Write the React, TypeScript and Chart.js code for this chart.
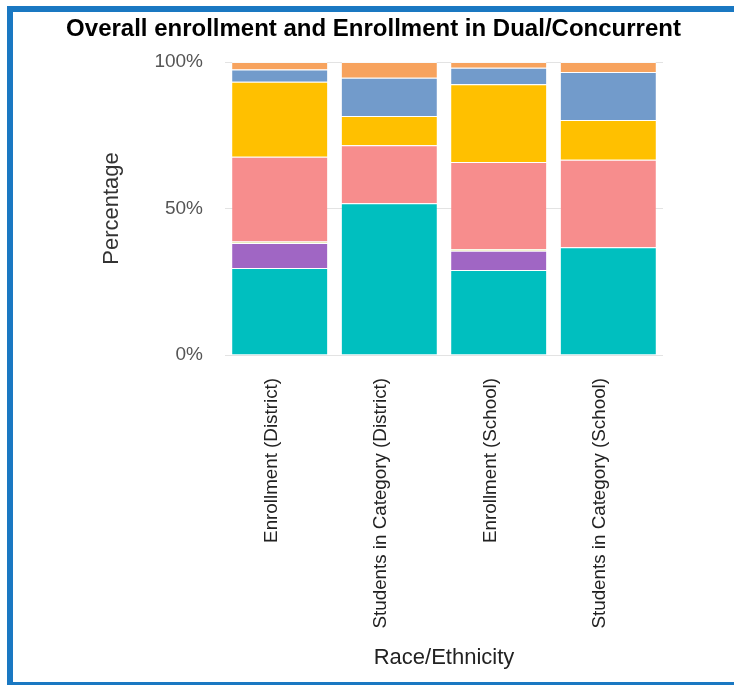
import React, { useEffect, useRef } from "react";
import { Chart, registerables } from "chart.js";

Chart.register(...registerables);

const categories = [
  "Enrollment (District)",
  "Students in Category (District)",
  "Enrollment (School)",
  "Students in Category (School)",
];

const seriesNames = [
  "Hispanic/Latino",
  "Two or More Races",
  "Native Hawaiian/Pacific Islander",
  "White",
  "Asian",
  "Black/African American",
  "American Indian/Alaska Native",
];

const teal = [29.7, 51.8, 29.0, 36.8];
const purple = [8.5, 0, 6.6, 0];
const paleYellow = [0.5, 0, 0.6, 0];
const pink = [29.0, 19.8, 29.7, 29.8];
const gold = [25.6, 10.0, 26.5, 13.6];
const blue = [4.1, 13.0, 5.6, 16.4];
const orange = [2.6, 5.4, 2.0, 3.4];

const yTicks = [0, 50, 100];

const seriesValues = [teal, purple, paleYellow, pink, gold, blue, orange];
const seriesColors = ["#00BFBF", "#A066C4", "#E2E6A6", "#F78D8D", "#FFC000", "#729BCB", "#F7A35E"];

const FONT = "'Liberation Sans', Arial, sans-serif";

export default function App() {
  const ref = useRef<HTMLCanvasElement | null>(null);

  useEffect(() => {
    if (!ref.current) return;
    const chart = new Chart(ref.current, {
      type: "bar",
      data: {
        labels: categories,
        datasets: seriesValues.map((vals, i) => ({
          label: seriesNames[i],
          data: vals,
          backgroundColor: seriesColors[i],
          borderColor: "rgba(255,255,255,0.8)",
          borderWidth: { top: 1, left: 0, right: 0, bottom: 0 },
          borderSkipped: false,
          categoryPercentage: 1,
          barPercentage: 0.87,
        })),
      },
      options: {
        responsive: false,
        animation: false,
        maintainAspectRatio: false,
        layout: { padding: { left: 0, right: 0, top: 3, bottom: 12 } },
        plugins: {
          legend: { display: false },
          tooltip: { enabled: false },
          title: {
            display: true,
            text: "Overall enrollment and Enrollment in Dual/Concurrent",
            color: "#000",
            font: { family: FONT, size: 24, weight: "bold" },
            padding: { top: 0, bottom: 18.2 },
          },
        },
        scales: {
          x: {
            stacked: true,
            afterFit: (scale: any) => {
              scale.height = 316;
            },
            grid: { display: false, drawTicks: false },
            border: { display: false },
            ticks: {
              minRotation: 90,
              maxRotation: 90,
              autoSkip: false,
              padding: 23,
              labelOffset: -8,
              color: "#222",
              font: { family: FONT, size: 18.8 },
            },
            title: {
              display: true,
              text: "Race/Ethnicity",
              color: "#222",
              font: { family: FONT, size: 22 },
              padding: { top: 0, bottom: 0 },
            },
          },
          y: {
            stacked: true,
            min: 0,
            max: 100,
            afterBuildTicks: (scale: any) => {
              scale.ticks = yTicks.map((v) => ({ value: v }));
            },
            afterFit: (scale: any) => {
              scale.width = 212;
            },
            grid: { color: "#e3e3e3", drawTicks: false },
            border: { display: false },
            ticks: {
              padding: 22,
              color: "#555",
              font: { family: FONT, size: 19 },
              callback: (v: any) => v + "%",
            },
            title: {
              display: true,
              text: "Percentage",
              color: "#333",
              font: { family: FONT, size: 22 },
              padding: { top: 86, bottom: 4 },
            },
          },
          spacer: {
            type: "linear",
            position: "right",
            display: true,
            afterFit: (scale: any) => {
              scale.width = 71;
            },
            grid: { display: false, drawTicks: false },
            border: { display: false },
            ticks: { display: false },
          },
        },
      },
    });
    return () => chart.destroy();
  }, []);

  return (
    <div
      style={{
        position: "fixed",
        left: 7,
        top: 6,
        width: 740,
        height: 682,
        boxSizing: "border-box",
        borderTop: "6px solid #1A78C2",
        borderLeft: "6px solid #1A78C2",
        borderBottom: "6px solid #1A78C2",
        background: "#fff",
        overflow: "hidden",
      }}
    >
      <canvas
        ref={ref}
        width={721}
        height={671}
        style={{ position: "absolute", left: 0, top: 0, width: 721, height: 671 }}
      />
    </div>
  );
}
